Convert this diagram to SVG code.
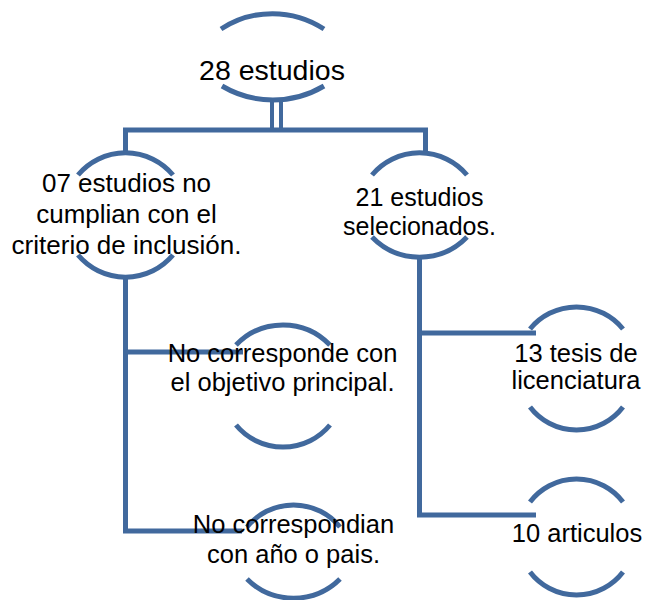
<svg xmlns="http://www.w3.org/2000/svg" width="646" height="600" viewBox="0 0 646 600">
<style>
.arc{fill:none;stroke:#41699d;stroke-width:5;stroke-linecap:butt}
.ln{fill:none;stroke:#41699d;stroke-width:5;stroke-linejoin:miter;stroke-linecap:butt}
.t{font-family:"Liberation Sans",Arial,sans-serif;fill:#000;text-anchor:middle}
</style>
<rect width="646" height="600" fill="#fff"/>
<g id="connectors">
<path class="ln" d="M272,100 V130 M281,100 V130" style="stroke-width:4"/>
<path class="ln" d="M125.5,153 V130 H425.5 V153"/>
<path class="ln" d="M125.5,277 V531 H242"/>
<path class="ln" d="M125.5,352 H243"/>
<path class="ln" d="M419.5,257 V515 H536"/>
<path class="ln" d="M419.5,333 H536"/>
</g>
<g id="node-28">
<path class="arc" d="M221,29 A94,94 0 0 1 324,29"/>
<path class="arc" d="M222,86 A100,100 0 0 0 324,86"/>
<text class="t" x="272" y="80" font-size="28.5">28 estudios</text>
</g>
<g id="node-07">
<path class="arc" d="M78,175 A62,62 0 0 1 173,175"/>
<path class="arc" d="M78,255 A62,62 0 0 0 173,255"/>
<text class="t" x="126.5" font-size="26"><tspan x="126.5" y="192">07 estudios no</tspan><tspan x="126.5" y="223">cumplian con el</tspan><tspan x="126.5" y="254">criterio de inclusión.</tspan></text>
</g>
<g id="node-21">
<path class="arc" d="M372,175 A62,62 0 0 1 467,175"/>
<path class="arc" d="M372,237 A66,66 0 0 0 467,237"/>
<text class="t" x="419.5" font-size="25"><tspan x="419.5" y="206">21 estudios</tspan><tspan x="419.5" y="235">selecionados.</tspan></text>
</g>
<g id="node-objetivo">
<path class="arc" d="M236,345 A65,65 0 0 1 330,345"/>
<path class="arc" d="M236,425 A61,61 0 0 0 330,425"/>
<text class="t" x="282.5" font-size="25.5"><tspan x="282.5" y="362">No corresponde con</tspan><tspan x="282.5" y="391">el objetivo principal.</tspan></text>
</g>
<g id="node-pais">
<path class="arc" d="M247,527 A60,60 0 0 1 340,527"/>
<path class="arc" d="M247,579 A66,66 0 0 0 340,579"/>
<text class="t" x="293.5" font-size="25.5"><tspan x="293.5" y="533">No correspondian</tspan><tspan x="293.5" y="563">con año o pais.</tspan></text>
</g>
<g id="node-tesis">
<path class="arc" d="M530,329 A60,60 0 0 1 623,329"/>
<path class="arc" d="M530,407 A58.5,58.5 0 0 0 623,407"/>
<text class="t" x="576" font-size="25.5"><tspan x="576" y="362">13 tesis de</tspan><tspan x="576" y="389">licenciatura</tspan></text>
</g>
<g id="node-articulos">
<path class="arc" d="M530,502 A58.5,58.5 0 0 1 623,502"/>
<path class="arc" d="M530,572 A58.5,58.5 0 0 0 623,572"/>
<text class="t" x="577" y="542" font-size="25.5">10 articulos</text>
</g>
</svg>
